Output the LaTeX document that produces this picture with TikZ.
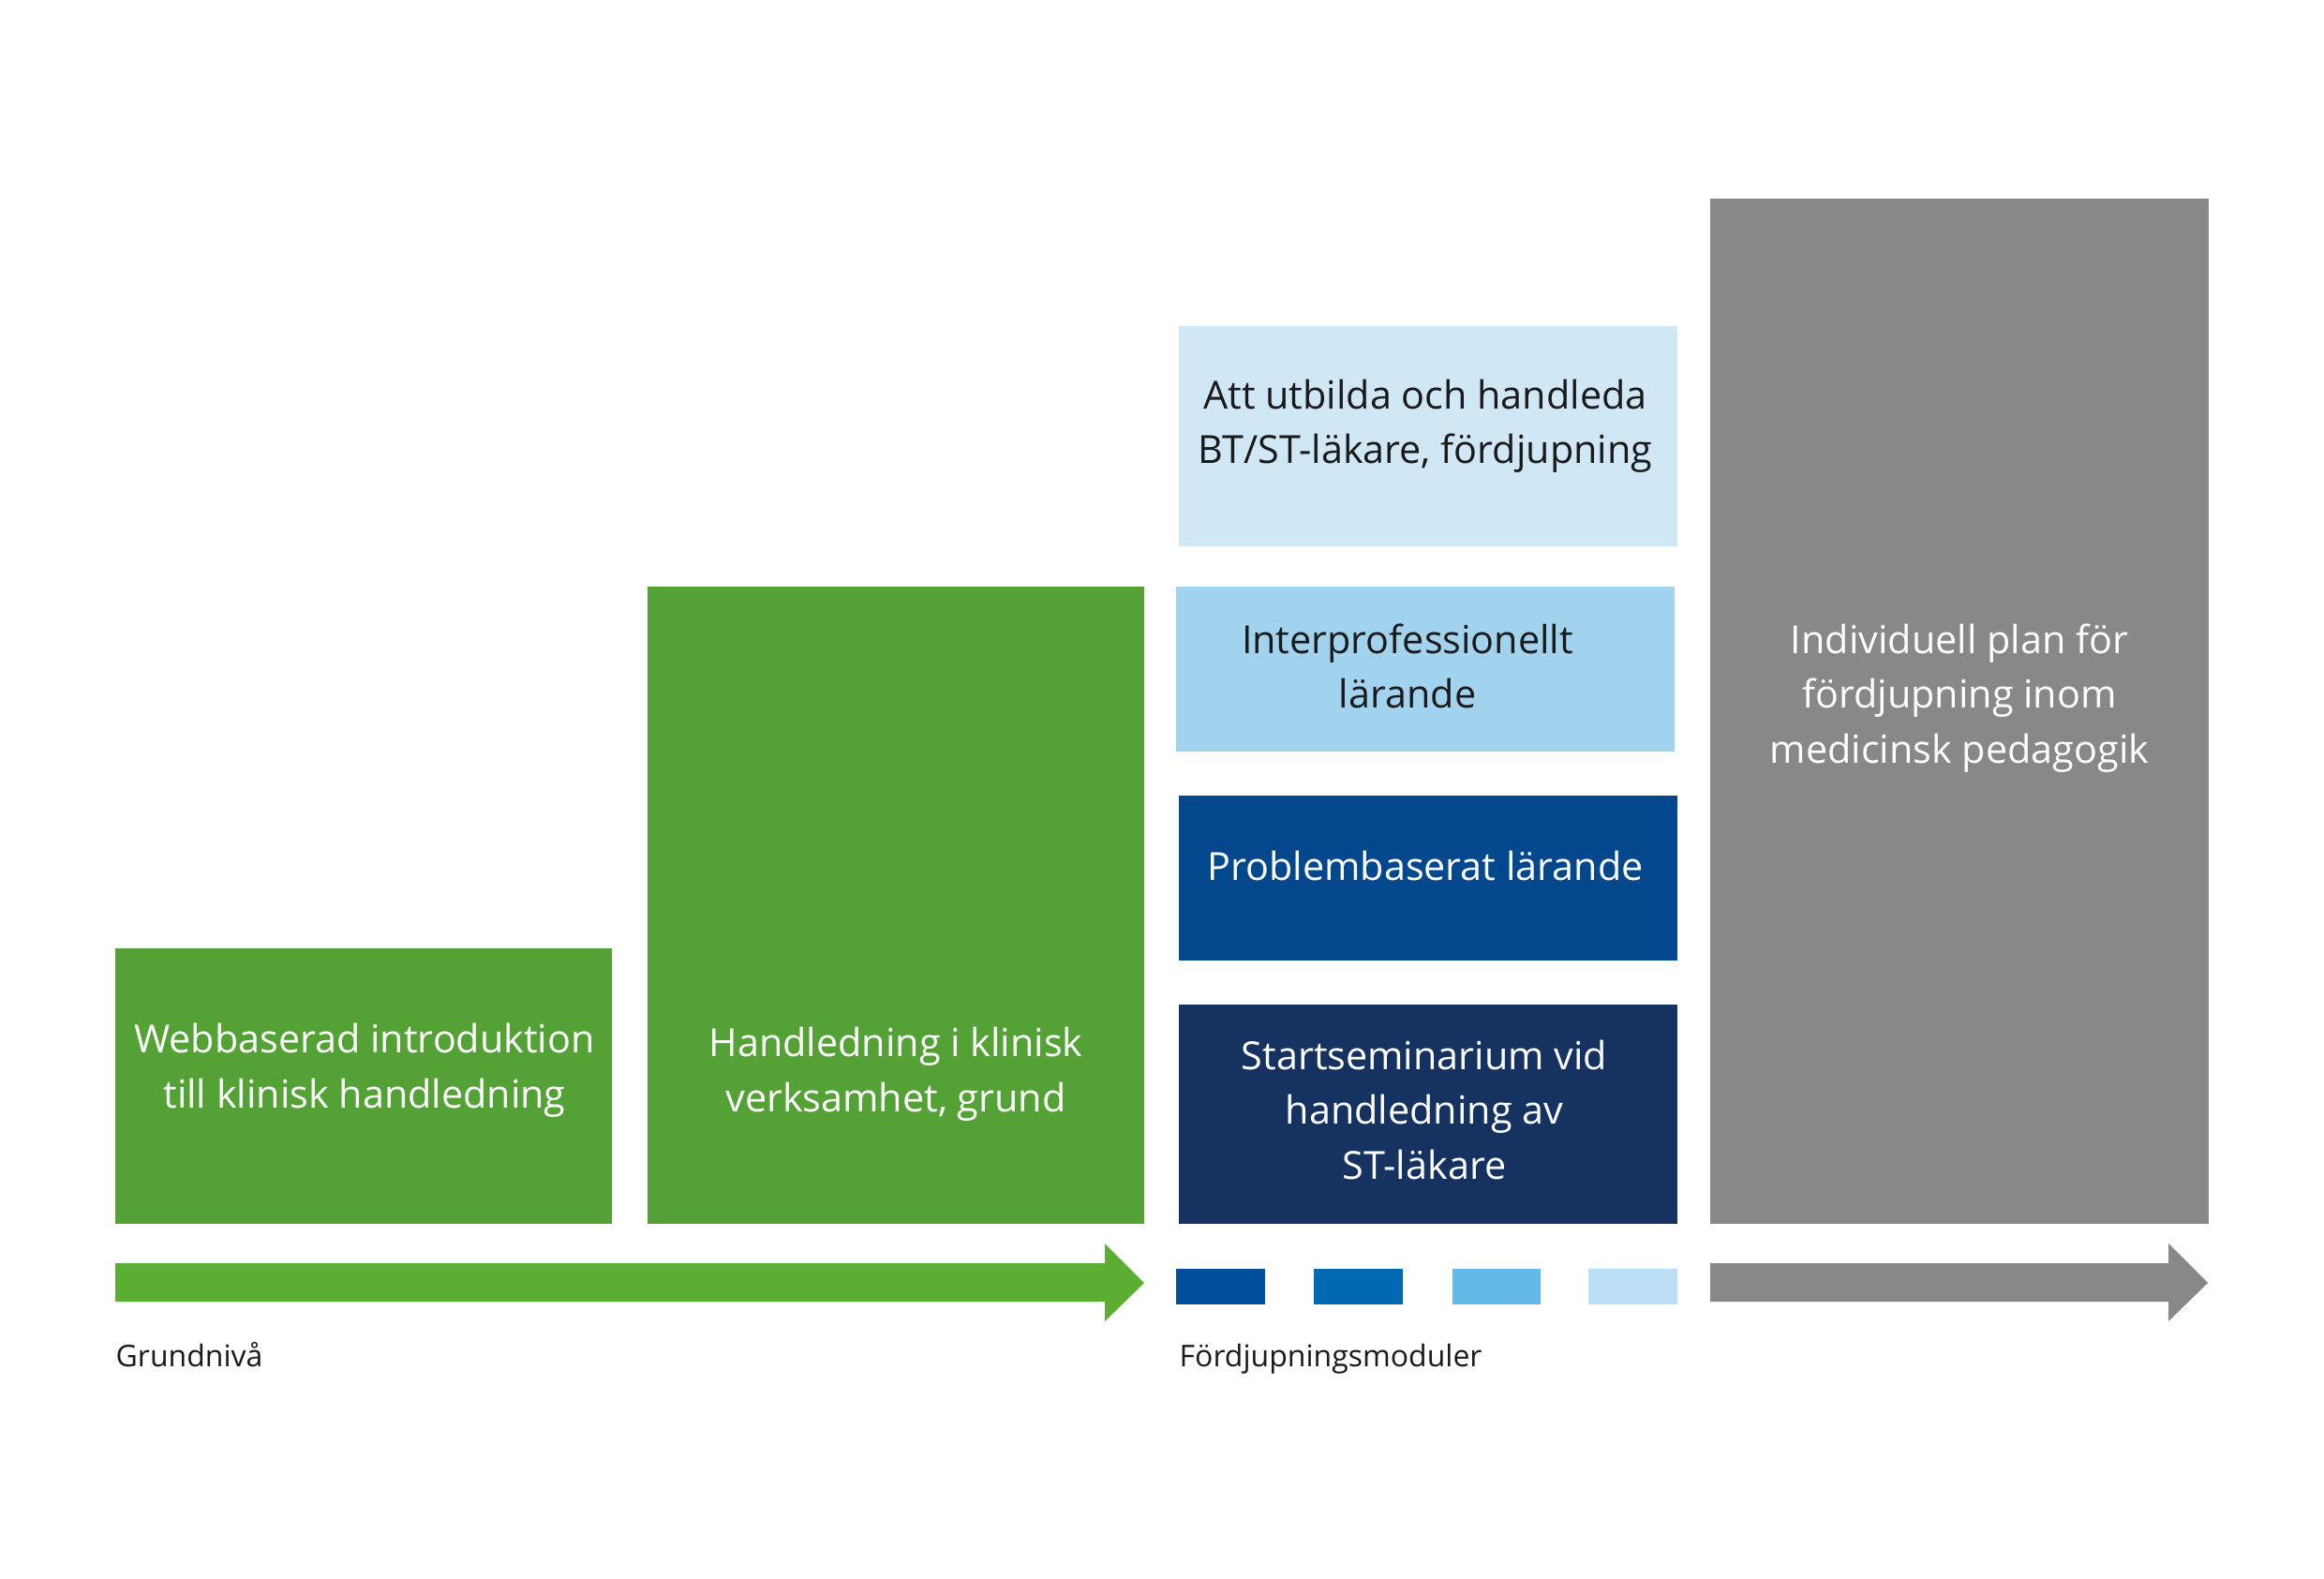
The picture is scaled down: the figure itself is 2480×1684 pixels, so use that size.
\documentclass[tikz,border=0pt]{standalone}
\usepackage{fontspec}
\setmainfont{Open Sans}
\usetikzlibrary{fit}
\definecolor{gbox}{RGB}{84,162,54}
\definecolor{garrow}{RGB}{90,175,50}
\definecolor{lblue}{RGB}{208,232,245}
\definecolor{mblue}{RGB}{161,211,238}
\definecolor{pblue}{RGB}{3,71,141}
\definecolor{sblue}{RGB}{21,50,96}
\definecolor{sqa}{RGB}{0,80,158}
\definecolor{sqb}{RGB}{0,105,180}
\definecolor{sqc}{RGB}{99,186,233}
\definecolor{sqd}{RGB}{189,223,246}
\definecolor{gbar}{RGB}{136,136,136}
\definecolor{dtext}{RGB}{26,26,26}
\tikzset{
  blk/.style={inner sep=0pt, outer sep=0pt, draw=none},
  btxt/.style={align=center, font=\fontsize{12.4}{17.55}\selectfont, inner sep=0pt},
  small/.style={anchor=base west, font=\fontsize{9.6}{11}\selectfont, text=dtext, inner sep=0pt}
}
\begin{document}
\begin{tikzpicture}[x=0.3pt,y=-0.3pt]
\useasboundingbox (0,0) rectangle (2480,1684);
% boxes
\node[blk, fill=gbox, fit={(123,1012) (653,1306)}] (b1) {};
\node[blk, fill=gbox, fit={(691,626) (1221,1306)}] (b2) {};
\node[blk, fill=lblue, fit={(1258,348) (1790,583)}] (b3) {};
\node[blk, fill=mblue, fit={(1255,626) (1787,802)}] (b4) {};
\node[blk, fill=pblue, fit={(1258,849) (1790,1025)}] (b5) {};
\node[blk, fill=sblue, fit={(1258,1072) (1790,1306)}] (b6) {};
\node[blk, fill=gbar, fit={(1825,212) (2357,1306)}] (b7) {};
% texts
\node[btxt, text=white] (t1) at (389,1142) {Webbaserad introduktion\\till klinisk handledning};
\node[btxt, text=white] (t2) at (956,1146) {Handledning i klinisk\\verksamhet, grund};
\node[btxt, text=dtext] (t3) at (1521,455) {Att utbilda och handleda\\BT/ST-läkare, fördjupning};
\node[btxt, text=dtext] (t4) at (1502,711) {Interprofessionellt\\lärande};
\node[btxt, text=white] (t5) at (1521,924) {Problembaserat lärande};
\node[btxt, text=white] (t6) at (1520,1184) {Startseminarium vid\\handledning av\\ST-läkare};
\node[btxt, text=white] (t7) at (2091,745) {Individuell plan för\\fördjupning inom\\medicinsk pedagogik};
% arrows
\fill[garrow] (123,1348) -- (1179,1348) -- (1179,1327) -- (1221,1369) -- (1179,1410) -- (1179,1389) -- (123,1389) -- cycle;
\fill[gbar] (1825,1348) -- (2314,1348) -- (2314,1327) -- (2356,1369) -- (2314,1410) -- (2314,1389) -- (1825,1389) -- cycle;
% squares
\node[blk, fill=sqa, fit={(1255,1354) (1350,1392)}] (q1) {};
\node[blk, fill=sqb, fit={(1402,1354) (1497,1392)}] (q2) {};
\node[blk, fill=sqc, fit={(1550,1354) (1644,1392)}] (q3) {};
\node[blk, fill=sqd, fit={(1695,1354) (1790,1392)}] (q4) {};
% labels
\node[small] (l1) at (123,1458) {Grundnivå};
\node[small] (l2) at (1258,1458) {Fördjupningsmoduler};
\end{tikzpicture}
\end{document}
